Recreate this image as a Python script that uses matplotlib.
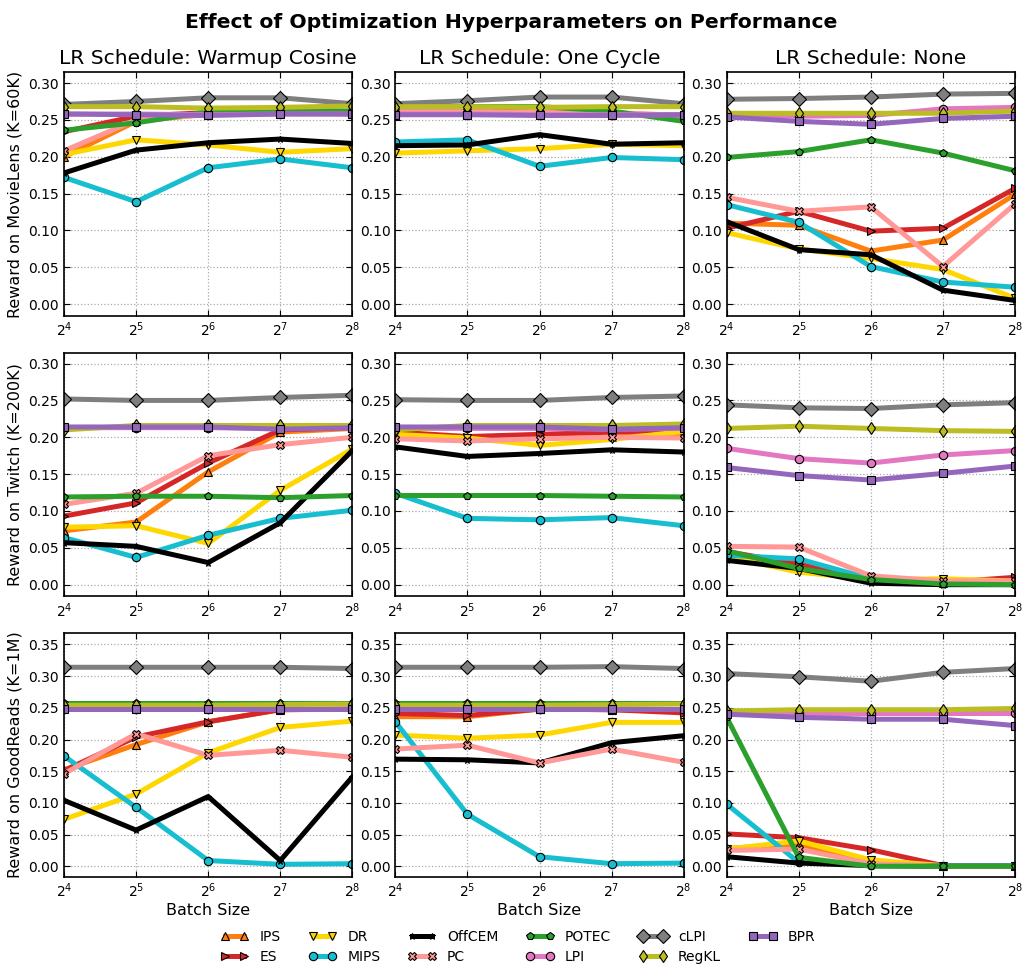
import math
import matplotlib.pyplot as plt
from matplotlib.ticker import FixedLocator, FuncFormatter

batch_sizes = [16, 32, 64, 128, 256]
methods = ["IPS", "ES", "DR", "MIPS", "OffCEM", "PC", "POTEC", "LPI", "cLPI", "RegKL", "BPR"]
colors = ["#ff7f0e", "#d62728", "#ffd700", "#17becf", "#000000", "#ff9896",
          "#2ca02c", "#e377c2", "#7f7f7f", "#bcbd22", "#9467bd"]
markers = ["^", ">", "v", "o", "*", "X", "p", "o", "D", "d", "s"]

schedules = ["Warmup Cosine", "One Cycle", "None"]
datasets = ["MovieLens (K=60K)", "Twitch (K=200K)", "GoodReads (K=1M)"]

# MovieLens
ml_warmup = {
    "IPS":    [0.200, 0.248, 0.258, 0.262, 0.258],
    "ES":     [0.234, 0.255, 0.260, 0.262, 0.260],
    "DR":     [0.203, 0.223, 0.216, 0.206, 0.211],
    "MIPS":   [0.172, 0.139, 0.185, 0.197, 0.185],
    "OffCEM": [0.178, 0.209, 0.219, 0.224, 0.218],
    "PC":     [0.208, 0.250, 0.257, 0.260, 0.258],
    "POTEC":  [0.236, 0.246, 0.261, 0.264, 0.262],
    "LPI":    [0.258, 0.258, 0.257, 0.258, 0.258],
    "cLPI":   [0.271, 0.275, 0.280, 0.280, 0.272],
    "RegKL":  [0.268, 0.268, 0.266, 0.267, 0.269],
    "BPR":    [0.258, 0.257, 0.256, 0.258, 0.258],
}
ml_onecycle = {
    "IPS":    [0.262, 0.261, 0.259, 0.259, 0.256],
    "ES":     [0.265, 0.263, 0.260, 0.259, 0.255],
    "DR":     [0.205, 0.208, 0.211, 0.217, 0.215],
    "MIPS":   [0.220, 0.223, 0.187, 0.199, 0.196],
    "OffCEM": [0.215, 0.216, 0.230, 0.217, 0.219],
    "PC":     [0.262, 0.262, 0.260, 0.260, 0.256],
    "POTEC":  [0.268, 0.268, 0.268, 0.262, 0.248],
    "LPI":    [0.258, 0.258, 0.257, 0.257, 0.257],
    "cLPI":   [0.272, 0.276, 0.281, 0.281, 0.272],
    "RegKL":  [0.268, 0.268, 0.267, 0.268, 0.268],
    "BPR":    [0.257, 0.257, 0.256, 0.256, 0.257],
}
ml_none = {
    "IPS":    [0.110, 0.107, 0.072, 0.087, 0.149],
    "ES":     [0.103, 0.126, 0.099, 0.103, 0.157],
    "DR":     [0.097, 0.075, 0.062, 0.047, 0.008],
    "MIPS":   [0.135, 0.111, 0.051, 0.030, 0.023],
    "OffCEM": [0.112, 0.074, 0.067, 0.019, 0.005],
    "PC":     [0.145, 0.126, 0.132, 0.051, 0.136],
    "POTEC":  [0.199, 0.207, 0.223, 0.205, 0.181],
    "LPI":    [0.258, 0.255, 0.256, 0.265, 0.267],
    "cLPI":   [0.278, 0.279, 0.281, 0.285, 0.286],
    "RegKL":  [0.259, 0.259, 0.259, 0.259, 0.262],
    "BPR":    [0.254, 0.248, 0.244, 0.252, 0.255],
}

# Twitch
tw_warmup = {
    "IPS":    [0.073, 0.085, 0.153, 0.207, 0.212],
    "ES":     [0.093, 0.111, 0.165, 0.210, 0.213],
    "DR":     [0.078, 0.080, 0.056, 0.128, 0.184],
    "MIPS":   [0.064, 0.037, 0.067, 0.090, 0.101],
    "OffCEM": [0.057, 0.052, 0.030, 0.084, 0.182],
    "PC":     [0.109, 0.124, 0.175, 0.190, 0.200],
    "POTEC":  [0.119, 0.120, 0.120, 0.118, 0.121],
    "LPI":    [0.213, 0.213, 0.213, 0.212, 0.213],
    "cLPI":   [0.252, 0.250, 0.250, 0.254, 0.257],
    "RegKL":  [0.210, 0.216, 0.216, 0.216, 0.216],
    "BPR":    [0.214, 0.214, 0.214, 0.211, 0.213],
}
tw_onecycle = {
    "IPS":    [0.203, 0.200, 0.199, 0.201, 0.203],
    "ES":     [0.207, 0.201, 0.204, 0.207, 0.210],
    "DR":     [0.204, 0.199, 0.189, 0.197, 0.208],
    "MIPS":   [0.124, 0.090, 0.088, 0.091, 0.080],
    "OffCEM": [0.187, 0.174, 0.178, 0.183, 0.180],
    "PC":     [0.198, 0.195, 0.198, 0.200, 0.199],
    "POTEC":  [0.121, 0.121, 0.121, 0.120, 0.119],
    "LPI":    [0.212, 0.212, 0.212, 0.211, 0.212],
    "cLPI":   [0.251, 0.250, 0.250, 0.254, 0.256],
    "RegKL":  [0.210, 0.216, 0.216, 0.216, 0.218],
    "BPR":    [0.214, 0.214, 0.214, 0.211, 0.213],
}
tw_none = {
    "IPS":    [0.040, 0.020, 0.006, 0.002, 0.002],
    "ES":     [0.045, 0.028, 0.008, 0.003, 0.010],
    "DR":     [0.038, 0.017, 0.007, 0.008, 0.005],
    "MIPS":   [0.040, 0.035, 0.008, 0.002, 0.001],
    "OffCEM": [0.033, 0.022, 0.002, 0.000, 0.000],
    "PC":     [0.052, 0.051, 0.012, 0.005, 0.005],
    "POTEC":  [0.046, 0.022, 0.007, 0.001, 0.000],
    "LPI":    [0.185, 0.171, 0.165, 0.176, 0.182],
    "cLPI":   [0.244, 0.240, 0.239, 0.244, 0.247],
    "RegKL":  [0.212, 0.215, 0.212, 0.209, 0.208],
    "BPR":    [0.159, 0.148, 0.142, 0.151, 0.161],
}

# GoodReads
gr_warmup = {
    "IPS":    [0.152, 0.192, 0.228, 0.247, 0.248],
    "ES":     [0.151, 0.204, 0.228, 0.247, 0.248],
    "DR":     [0.074, 0.114, 0.179, 0.219, 0.229],
    "MIPS":   [0.174, 0.093, 0.009, 0.003, 0.004],
    "OffCEM": [0.104, 0.057, 0.110, 0.009, 0.141],
    "PC":     [0.146, 0.209, 0.175, 0.183, 0.172],
    "POTEC":  [0.257, 0.257, 0.257, 0.257, 0.257],
    "LPI":    [0.248, 0.248, 0.248, 0.248, 0.248],
    "cLPI":   [0.314, 0.314, 0.314, 0.314, 0.312],
    "RegKL":  [0.254, 0.254, 0.254, 0.255, 0.256],
    "BPR":    [0.248, 0.248, 0.248, 0.248, 0.248],
}
gr_onecycle = {
    "IPS":    [0.236, 0.236, 0.248, 0.247, 0.245],
    "ES":     [0.241, 0.238, 0.248, 0.247, 0.242],
    "DR":     [0.207, 0.202, 0.207, 0.227, 0.227],
    "MIPS":   [0.228, 0.082, 0.015, 0.004, 0.005],
    "OffCEM": [0.169, 0.168, 0.163, 0.195, 0.206],
    "PC":     [0.185, 0.191, 0.163, 0.185, 0.164],
    "POTEC":  [0.257, 0.257, 0.257, 0.257, 0.257],
    "LPI":    [0.248, 0.248, 0.248, 0.248, 0.248],
    "cLPI":   [0.314, 0.314, 0.314, 0.315, 0.312],
    "RegKL":  [0.254, 0.254, 0.254, 0.255, 0.256],
    "BPR":    [0.248, 0.248, 0.248, 0.248, 0.248],
}
gr_none = {
    "IPS":    [0.028, 0.035, 0.008, 0.000, 0.000],
    "ES":     [0.051, 0.045, 0.026, 0.001, 0.001],
    "DR":     [0.027, 0.040, 0.010, 0.001, 0.001],
    "MIPS":   [0.098, 0.006, 0.002, 0.001, 0.001],
    "OffCEM": [0.015, 0.005, 0.001, 0.000, 0.000],
    "PC":     [0.025, 0.027, 0.004, 0.000, 0.000],
    "POTEC":  [0.235, 0.014, 0.000, 0.000, 0.000],
    "LPI":    [0.242, 0.242, 0.242, 0.242, 0.242],
    "cLPI":   [0.304, 0.299, 0.292, 0.306, 0.312],
    "RegKL":  [0.245, 0.247, 0.247, 0.247, 0.249],
    "BPR":    [0.240, 0.235, 0.232, 0.232, 0.222],
}

panels = [[ml_warmup, ml_onecycle, ml_none],
          [tw_warmup, tw_onecycle, tw_none],
          [gr_warmup, gr_onecycle, gr_none]]
row_ylims = [(-0.016, 0.315), (-0.016, 0.315), (-0.017, 0.368)]
row_yticks = [[0, 0.05, 0.10, 0.15, 0.20, 0.25, 0.30],
              [0, 0.05, 0.10, 0.15, 0.20, 0.25, 0.30],
              [0, 0.05, 0.10, 0.15, 0.20, 0.25, 0.30, 0.35]]

plt.rcParams["font.family"] = ["DejaVu Sans"]
plt.rcParams["xtick.direction"] = "in"
plt.rcParams["ytick.direction"] = "in"
plt.rcParams["xtick.top"] = True
plt.rcParams["ytick.right"] = True
plt.rcParams["xtick.major.size"] = 4
plt.rcParams["ytick.major.size"] = 4

fig, axes = plt.subplots(3, 3, figsize=(10.22, 9.67), dpi=100)
fig.subplots_adjust(left=64/1022, right=1015/1022, top=1-72/967, bottom=1-877/967,
                    wspace=0.149, hspace=0.15)

for r in range(3):
    for c in range(3):
        ax = axes[r, c]
        data = panels[r][c]
        for m, col, mk in zip(methods, colors, markers):
            ms = 7 if mk == "D" else 6
            if mk == "*":
                ms = 5
            ax.plot(batch_sizes, data[m], color=col, lw=3.6, marker=mk, ms=ms,
                    mec="black", mew=0.8, label=m)
        ax.set_xscale("log", base=2)
        ax.set_xlim(16, 256)
        ax.xaxis.set_major_locator(FixedLocator(batch_sizes))
        ax.xaxis.set_minor_locator(FixedLocator([]))
        ax.xaxis.set_major_formatter(FuncFormatter(lambda v, _: r"$2^{%d}$" % round(math.log2(v))))
        ax.set_ylim(*row_ylims[r])
        ax.set_yticks(row_yticks[r])
        ax.yaxis.set_major_formatter(FuncFormatter(lambda y, _: "{:.2f}".format(y)))
        ax.tick_params(labelsize=10)
        ax.grid(True, linestyle=":", color="#aaaaaa", linewidth=0.9)
        for s in ax.spines.values():
            s.set_linewidth(1.2)
        if r == 0:
            ax.set_title("LR Schedule: " + schedules[c], fontsize=14.6)
        if c == 0:
            ax.set_ylabel("Reward on " + datasets[r], fontsize=11.5)
        if r == 2:
            ax.set_xlabel("Batch Size", fontsize=11.5, labelpad=2)

fig.suptitle("Effect of Optimization Hyperparameters on Performance",
             fontsize=14.7, fontweight="bold", y=1-22/967, va="center")

handles, labels = axes[0, 0].get_legend_handles_labels()
fig.legend(handles, labels, loc="center", bbox_to_anchor=(518/1022, 1-947/967), ncol=6,
           frameon=False, fontsize=10, handlelength=2.0, numpoints=2,
           columnspacing=2.0, labelspacing=0.45, borderpad=0)

plt.savefig("out.png", dpi=100)
